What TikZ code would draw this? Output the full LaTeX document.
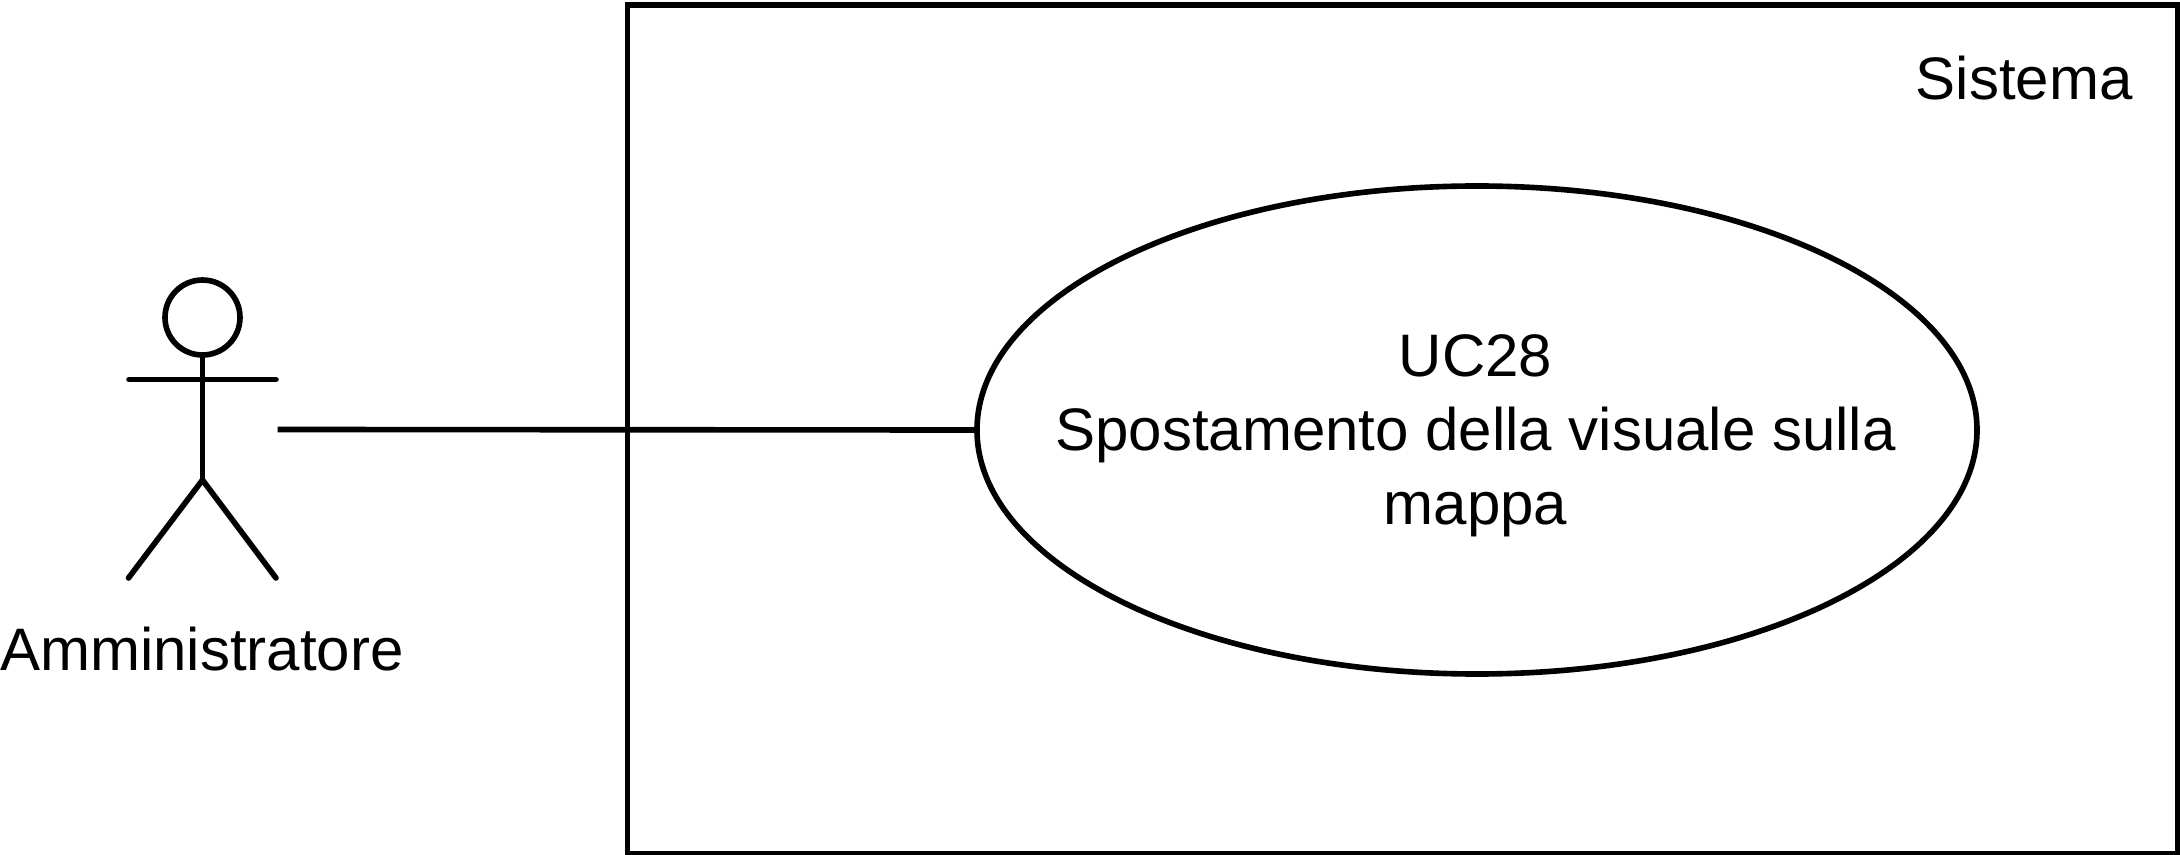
\documentclass[tikz,border=0pt]{standalone}
\usepackage{fontspec}
\setmainfont{Liberation Sans}
\usetikzlibrary{shapes.geometric}
\tikzset{
 px/.style={x=0.48pt,y=-0.48pt},
 ln/.style={draw=black,line width=2.7pt,line cap=round,line join=miter},
 lbl/.style={font=\fontsize{28.8}{35.4}\selectfont,text=black,inner sep=0pt,align=center},
}
\begin{document}
\begin{tikzpicture}[px]
\useasboundingbox (0,0) rectangle (2180,855);
\node[ln,draw,rectangle,inner sep=0pt,outer sep=0pt,minimum width=1550*0.48pt,minimum height=849*0.48pt,anchor=north west] (sys) at (627.5,4.7) {};
\node[lbl,anchor=base east] (syslbl) at (2133,100) {Sistema};
\node[ln,draw,ellipse,inner sep=0pt,outer sep=0pt,minimum width=1000*0.48pt,minimum height=488*0.48pt] (uc) at (1477,430) {};
\node[lbl] (uclbl) at (1475.5,436) {UC28\\Spostamento della visuale sulla\\mappa};
\node[ln,draw,circle,inner sep=0pt,outer sep=0pt,minimum size=75*0.48pt] (head) at (202.5,317.5) {};
\coordinate (hip) at (202.5,480);
\coordinate (armL) at (129,379.5);
\coordinate (armR) at (276,379.5);
\coordinate (legL) at (128.5,578);
\coordinate (legR) at (276,578);
\coordinate (assoc) at (277.5,429.5);
\draw[ln] (head.south) -- (hip);
\draw[ln] (armL) -- (armR);
\draw[ln] (legL) -- (hip) -- (legR);
\node[lbl,anchor=base] (actor) at (202,670) {Amministratore};
\draw[ln,line cap=butt] (assoc) -- (uc.west);
\end{tikzpicture}
\end{document}
